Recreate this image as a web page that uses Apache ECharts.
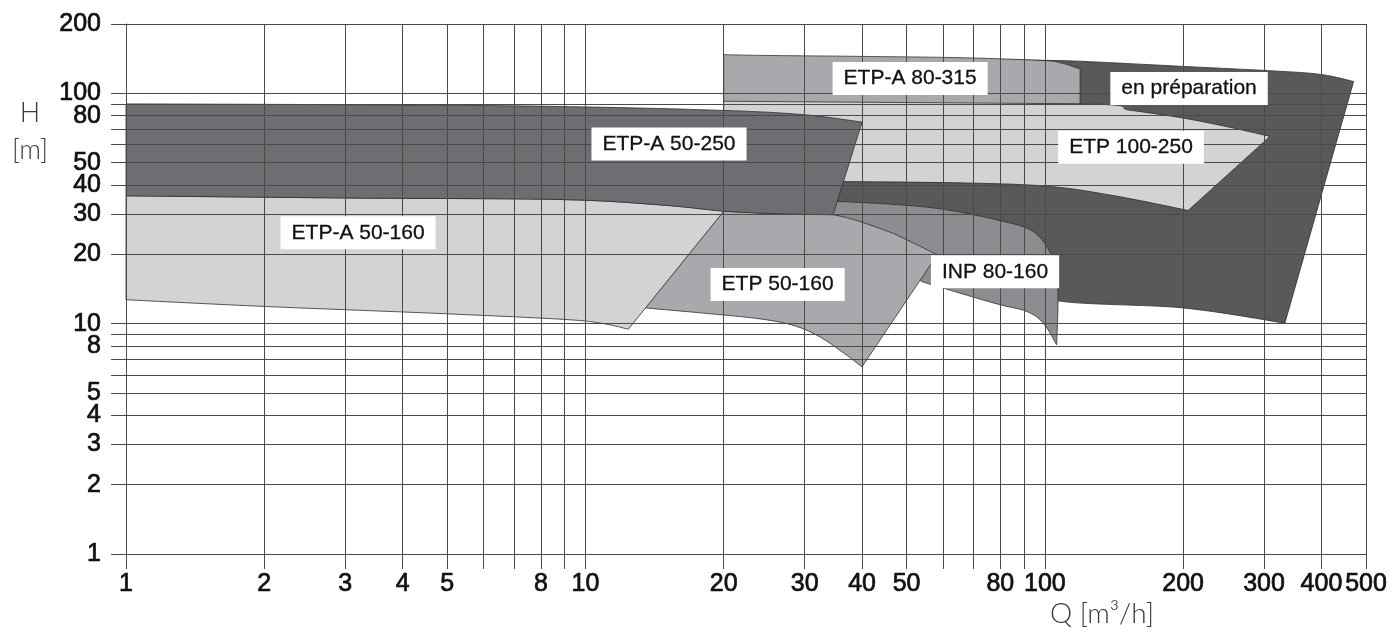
<!DOCTYPE html>
<html>
<head>
<meta charset="utf-8">
<script src="https://cdn.jsdelivr.net/npm/echarts@6/dist/echarts.min.js"></script>
<style>
  html, body { margin: 0; padding: 0; background: #ffffff; }
  #chart { width: 1393px; height: 644px; }
</style>
</head>
<body>
<div id="chart"></div>
<script>
// Pump operating ranges: each outline is a list of [Q (m³/h), H (m)] points.
const enPreparation = [[34, 142.8], [97.6, 139.2], [132, 136.5], [200, 130.9], [330, 124.5], [403, 120.4], [470, 112.6],
  [333, 10.05], [200, 11.7], [106, 12.6], [93, 15.5], [62, 23.1], [34, 32.8]];
const etp100_250 = [[20, 95], [119, 90.3], [153, 84.5], [200, 78.1], [257, 70.7], [309, 65],
  [205, 31], [144, 35.7], [103, 39.4], [68, 40.8], [36, 41.4], [20, 42.1]];
const etpA80_315 = [[20, 147.2], [24.4, 146.1], [39.6, 144.7], [65.4, 142.8], [97.6, 139], [108, 135.8], [119.3, 127.5],
  [119.3, 90.1], [20, 92.4]];
const inp80_160 = [[32.4, 34], [34.9, 34], [48.4, 32.8], [61.2, 31.2], [78.7, 28.2], [92.9, 25.6], [101, 21.6], [105.8, 17.1],
  [106.8, 12.7], [106.1, 8.1], [99.2, 10.05], [91.3, 11.3], [77.3, 12.3], [54, 15.2], [43.8, 20.9], [32.4, 30.6]];
const etp50_160 = [[20, 30.8], [26.5, 30], [34.6, 29.7], [44.5, 25.6], [51.7, 22.4], [58.3, 19.9],
  [40, 6.5], [36.2, 7.54], [32.4, 8.76], [28.6, 9.78], [24, 10.49], [17.8, 11.14], [13.5, 11.7]];
const etpA50_160 = [[1, 35.9], [3.2, 35.1], [8.8, 34.6], [14.5, 32.8], [20, 30.8],
  [12.4, 9.46], [10.8, 10.05], [8.8, 10.46], [4.66, 11.1], [2.02, 11.87], [1, 12.7]];
const etpA50_250 = [[1, 90], [3.2, 89.2], [8.8, 87.7], [20, 84.3], [30, 80.7], [40, 75],
  [34.6, 29.7], [26.5, 30], [20, 30.8], [14.5, 32.8], [8.8, 34.6], [3.2, 35.1], [1, 35.9]];

// Range names and where their name tags sit, in [Q, H]
const rangeNames = ['en préparation', 'ETP 100-250', 'ETP-A 80-315', 'INP 80-160', 'ETP 50-160', 'ETP-A 50-160', 'ETP-A 50-250'];
const nameTagAt = [[206, 105], [154, 58.3], [50.9, 116], [77.9, 16.8], [26.2, 14.8], [3.2, 24.8], [15.2, 60.3]];

// Log grid lines and the ones that carry a number
const qGrid = [1, 2, 3, 4, 5, 6, 7, 8, 9, 10, 20, 30, 40, 50, 60, 70, 80, 90, 100, 200, 300, 400, 500];
const qLabels = [1, 2, 3, 4, 5, 8, 10, 20, 30, 40, 50, 80, 100, 200, 300, 400, 500];
const hGrid = [1, 2, 3, 4, 5, 6, 7, 8, 9, 10, 20, 30, 40, 50, 60, 70, 80, 90, 100, 200];
const hLabels = [1, 2, 3, 4, 5, 8, 10, 20, 30, 40, 50, 80, 100, 200];

// Drawing order (back to front), fill shades and the sharp corners of each outline;
// the stretches between corners are curves.
const outlines = [enPreparation, etp100_250, etpA80_315, inp80_160, etp50_160, etpA50_160, etpA50_250];
const fills = ['#58595b', '#d1d3d4', '#a7a9ac', '#8b8d90', '#a7a9ac', '#d1d3d4', '#6d6e71'];
const corners = [[0, 6, 7, 12], [0, 5, 6, 11], [0, 6, 7, 8], [0, 9, 13, 14, 15], [0, 5, 6, 12], [0, 4, 5, 10], [0, 5, 6, 12]];

const gridColor = '#4a4a4a';
const tickFont = 'Liberation Sans, Arial, sans-serif';

// Closed outline: straight line where a stretch has two points, Catmull-Rom curve otherwise
function outlinePath(px, cornerIdx) {
  const n = px.length;
  const f = v => v.toFixed(2);
  let d = 'M ' + f(px[0][0]) + ' ' + f(px[0][1]);
  const cs = cornerIdx.concat([n]);
  for (let k = 0; k < cs.length - 1; k++) {
    const chain = [];
    for (let i = cs[k]; i <= cs[k + 1]; i++) chain.push(px[i % n]);
    if (chain.length === 2) {
      d += ' L ' + f(chain[1][0]) + ' ' + f(chain[1][1]);
      continue;
    }
    for (let i = 0; i < chain.length - 1; i++) {
      const p0 = chain[Math.max(i - 1, 0)], p1 = chain[i], p2 = chain[i + 1];
      const p3 = chain[Math.min(i + 2, chain.length - 1)];
      const c1 = [p1[0] + (p2[0] - p0[0]) / 6, p1[1] + (p2[1] - p0[1]) / 6];
      const c2 = [p2[0] - (p3[0] - p1[0]) / 6, p2[1] - (p3[1] - p1[1]) / 6];
      d += ' C ' + [c1[0], c1[1], c2[0], c2[1], p2[0], p2[1]].map(f).join(' ');
    }
  }
  return d + ' Z';
}

function rangeSeries(pts, color, cornerIdx, order) {
  return {
    type: 'custom',
    coordinateSystem: 'cartesian2d',
    z: 2,
    silent: true,
    data: pts,
    encode: { x: 0, y: 1 },
    renderItem(params, api) {
      if (params.dataIndex !== 0) return null;
      return {
        type: 'path',
        z2: order,
        shape: { pathData: outlinePath(pts.map(p => api.coord(p)), cornerIdx) },
        style: { fill: color, stroke: '#2e2e2e', lineWidth: 0.8 }
      };
    }
  };
}

const series = outlines.map((pts, i) => rangeSeries(pts, fills[i], corners[i], i));

series.push({
  type: 'custom',
  coordinateSystem: 'cartesian2d',
  z: 4,
  silent: true,
  data: nameTagAt.map((p, i) => [p[0], p[1], i]),
  encode: { x: 0, y: 1 },
  renderItem(params, api) {
    const c = api.coord([api.value(0), api.value(1)]);
    return {
      type: 'text',
      x: c[0],
      y: c[1],
      style: {
        text: rangeNames[api.value(2)],
        fill: '#111111',
        font: '21px ' + tickFont,
        align: 'center',
        verticalAlign: 'middle',
        backgroundColor: '#ffffff',
        padding: [6, 11],
        stroke: '#111111',
        lineWidth: 0.3
      }
    };
  }
});

function logAxis(min, max, grid, labels, margin) {
  return {
    type: 'log',
    logBase: 10,
    min: min,
    max: max,
    z: 3,
    axisLine: { show: true, lineStyle: { color: gridColor, width: 1 } },
    axisTick: { show: true, length: 15, customValues: grid, lineStyle: { color: gridColor, width: 1 } },
    axisLabel: {
      customValues: labels,
      margin: margin,
      fontSize: 25,
      fontFamily: tickFont,
      color: '#111111',
      textBorderColor: '#111111',
      textBorderWidth: 0.7,
      formatter: v => String(Math.round(v))
    },
    splitLine: { show: true, lineStyle: { color: gridColor, width: 1 } }
  };
}

const titleFont = '300 27px Lato, "Open Sans", sans-serif';

const chart = echarts.init(document.getElementById('chart'), null, { renderer: 'canvas' });
chart.setOption({
  animation: false,
  backgroundColor: '#ffffff',
  grid: { left: 126, right: 27, top: 24, bottom: 90, containLabel: false, outerBoundsMode: 'none' },
  xAxis: logAxis(1, 500, qGrid, qLabels, 18),
  yAxis: logAxis(1, 200, hGrid, hLabels, 25),
  graphic: [
    { type: 'text', x: 30, y: 113, style: { text: 'H', font: titleFont, fill: '#3a3a3a', align: 'center', verticalAlign: 'middle' } },
    { type: 'text', x: 30, y: 150, style: { text: '[m]', font: titleFont, fill: '#3a3a3a', align: 'center', verticalAlign: 'middle' } },
    { type: 'text', x: 1102, y: 614, style: { text: 'Q [m³/h]', font: '300 28px Lato, "Open Sans", sans-serif', fill: '#3a3a3a', align: 'center', verticalAlign: 'middle' } }
  ],
  series: series
});
</script>
</body>
</html>
